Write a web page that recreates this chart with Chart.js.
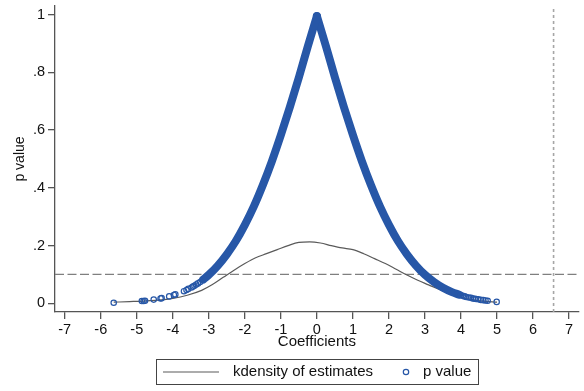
<!DOCTYPE html>
<html><head><meta charset="utf-8">
<script src="https://cdn.jsdelivr.net/npm/chart.js@4.4.0/dist/chart.umd.min.js"></script>
<style>html,body{margin:0;padding:0;background:#fff}</style>
</head><body>
<canvas id="c" width="584" height="391"></canvas>
<script>
// ---- data ----
const xTicks = [-7,-6,-5,-4,-3,-2,-1,0,1,2,3,4,5,6,7];
const yTicks = [0,0.2,0.4,0.6,0.8,1];
const yTickLabels = ['0','.2','.4','.6','.8','1'];
const seriesLabels = ['kdensity of estimates','p value'];
const axisTitles = ['Coefficients','p value'];

// kernel density of estimates
const kdX = [-5.64,-5.2,-4.8,-4.4,-4.0,-3.6,-3.2,-2.9,-2.6,-2.3,-2.0,-1.7,-1.4,-1.1,-0.8,-0.5,-0.2,0.1,0.4,0.7,1.0,1.3,1.6,1.9,2.2,2.5,2.8,3.1,3.4,3.7,4.0,4.3,4.6,5.0];
const kdY = [0.004,0.006,0.008,0.011,0.017,0.028,0.045,0.065,0.090,0.115,0.138,0.158,0.172,0.186,0.200,0.211,0.213,0.209,0.200,0.192,0.186,0.172,0.155,0.138,0.118,0.098,0.080,0.064,0.048,0.033,0.021,0.013,0.008,0.004];

// dense band of p values (centre line of the overlapping markers)
const bandX = [-3.15,-3.0,-2.75,-2.5,-2.25,-2.0,-1.75,-1.5,-1.25,-1.0,-0.75,-0.5,-0.25,0,0.25,0.5,0.75,1.0,1.25,1.5,1.75,2.0,2.25,2.5,2.75,3.0,3.25,3.5,3.75,3.95];
const bandP = [0.083,0.099,0.131,0.170,0.216,0.272,0.336,0.410,0.492,0.583,0.680,0.783,0.891,0.995,0.891,0.783,0.680,0.583,0.492,0.410,0.336,0.272,0.216,0.170,0.131,0.099,0.074,0.054,0.039,0.030];

// individually visible p-value markers (tails)
const ptX = [-5.64,-4.86,-4.81,-4.77,-4.53,-4.34,-4.31,-4.10,-3.97,-3.93,-3.69,-3.62,-3.57,-3.48,-3.44,-3.40,-3.35,-3.30,-3.24,-3.18,-3.12,
             3.90,3.95,4.00,4.05,4.10,4.15,4.22,4.28,4.33,4.38,4.42,4.48,4.55,4.62,4.68,4.74,4.99];
const ptP = [0.002,0.008,0.008,0.009,0.013,0.017,0.018,0.024,0.029,0.031,0.042,0.046,0.050,0.055,0.058,0.061,0.065,0.069,0.074,0.080,0.086,
             0.032,0.030,0.028,0.026,0.024,0.022,0.020,0.019,0.017,0.016,0.015,0.014,0.012,0.011,0.010,0.009,0.005];

const refP = 0.1;     // horizontal dashed line
const refX = 6.57;    // vertical dotted line
const xMin = -7.27, xMax = 7.27, yMin = -0.03, yMax = 1.03;

// ---- build ----
const blue = '#2757a7';
const kdColor = '#5a5a5a';
const FONT = "'Liberation Sans', Arial, sans-serif";
const toXY = (xs, ys) => xs.map((x, i) => ({x, y: ys[i]}));
const bandPts = toXY(bandX, bandP);

const datasets = [
  {label: seriesLabels[1], data: toXY(ptX, ptP), order: 0,
   pointStyle: 'circle', pointRadius: 2.7, borderWidth: 1.2, borderColor: blue,
   backgroundColor: 'rgba(255,255,255,0)', showLine: false},
  {label: 'band-left', data: bandPts.filter(p => p.x <= 0), order: 1, showLine: true,
   pointRadius: 0, borderWidth: 8, borderColor: blue, cubicInterpolationMode: 'monotone',
   borderCapStyle: 'round', borderJoinStyle: 'round'},
  {label: 'band-right', data: bandPts.filter(p => p.x >= 0), order: 1, showLine: true,
   pointRadius: 0, borderWidth: 8, borderColor: blue, cubicInterpolationMode: 'monotone',
   borderCapStyle: 'round', borderJoinStyle: 'round'},
  {label: seriesLabels[0], data: toXY(kdX, kdY), order: 2, showLine: true,
   pointRadius: 0, borderWidth: 1.2, borderColor: kdColor, cubicInterpolationMode: 'monotone'},
  {label: 'yline', data: [{x: xMin, y: refP}, {x: xMax, y: refP}], order: 3, showLine: true,
   pointRadius: 0, borderWidth: 1.2, borderColor: '#7f7f7f', borderDash: [9, 3.5]},
  {label: 'xline', data: [{x: refX, y: yMin}, {x: refX, y: yMax}], order: 4, showLine: true,
   pointRadius: 0, borderWidth: 1.6, borderColor: '#a6a6a6', borderDash: [3, 3]}
];

const legendPlugin = {
  id: 'stataLegend',
  afterDraw(chart) {
    const ctx = chart.ctx;
    ctx.save();
    ctx.strokeStyle = '#444';
    ctx.lineWidth = 1;
    ctx.strokeRect(156.5, 359.5, 322, 25);
    const cy = 372;
    ctx.strokeStyle = kdColor; ctx.lineWidth = 1.2;
    ctx.beginPath(); ctx.moveTo(163, cy); ctx.lineTo(219, cy); ctx.stroke();
    ctx.fillStyle = '#111';
    ctx.font = '15px ' + FONT;
    ctx.textBaseline = 'middle';
    ctx.fillText(seriesLabels[0], 233, cy);
    ctx.strokeStyle = blue; ctx.lineWidth = 1.2;
    ctx.beginPath(); ctx.arc(406, cy, 2.7, 0, Math.PI * 2); ctx.stroke();
    ctx.fillText(seriesLabels[1], 423, cy);
    ctx.restore();
  }
};

new Chart(document.getElementById('c'), {
  type: 'scatter',
  data: {datasets},
  plugins: [legendPlugin],
  options: {
    responsive: false, animation: false, devicePixelRatio: 1,
    layout: {padding: {top: 6, right: 4, bottom: 34, left: 0}},
    plugins: {legend: {display: false}, tooltip: {enabled: false}},
    scales: {
      x: {
        type: 'linear', min: xMin, max: xMax,
        afterBuildTicks: s => { s.ticks = xTicks.map(v => ({value: v})); },
        ticks: {font: {size: 14.5, family: FONT}, color: '#111', padding: 2, autoSkip: false, maxRotation: 0,
                callback: v => String(v)},
        grid: {drawOnChartArea: false, drawTicks: true, tickLength: 7, color: '#555', lineWidth: 1.3},
        border: {display: true, color: '#555', width: 1.3},
        title: {display: true, text: axisTitles[0], font: {size: 15, family: FONT}, color: '#111',
                padding: {top: 0, bottom: 6}},
        afterFit: s => { s.height = 45; s.paddingLeft = 0; s.paddingRight = 0; }
      },
      y: {
        type: 'linear', min: yMin, max: yMax,
        afterBuildTicks: s => { s.ticks = yTicks.map(v => ({value: v})); },
        ticks: {font: {size: 14.5, family: FONT}, color: '#111', padding: 3, autoSkip: false,
                callback: v => { const i = yTicks.findIndex(t => Math.abs(t - v) < 1e-9); return i >= 0 ? yTickLabels[i] : ''; }},
        grid: {drawOnChartArea: false, drawTicks: true, tickLength: 7, color: '#555', lineWidth: 1.3},
        border: {display: true, color: '#555', width: 1.3},
        title: {display: true, text: axisTitles[1], font: {size: 14, family: FONT}, color: '#111',
                padding: {top: 12, bottom: 0}},
        afterFit: s => { s.width = 55; s.paddingTop = 0; s.paddingBottom = 0; }
      }
    }
  }
});
</script>
</body></html>
